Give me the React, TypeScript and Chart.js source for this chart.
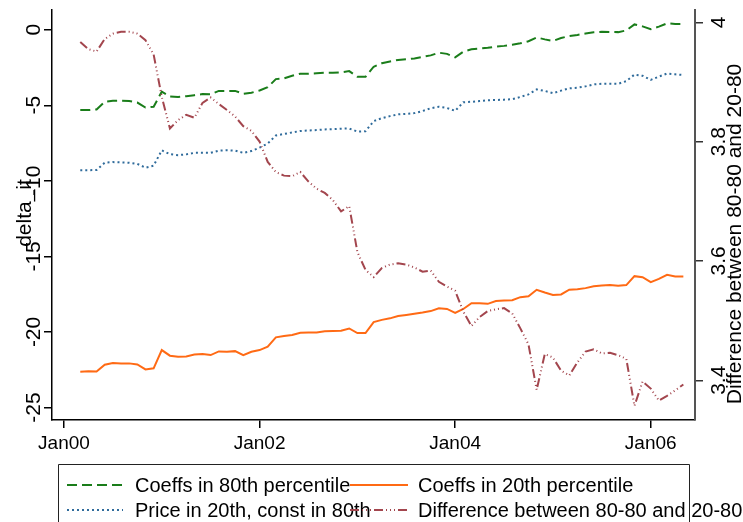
import React, { useEffect, useRef } from "react";
import { Chart, registerables } from "chart.js";

Chart.register(...registerables);

// months since Jan 2000 (Mar 2000 .. May 2006)
const months = [
  2, 3, 4, 5, 6, 7, 8, 9, 10, 11,
  12, 13, 14, 15, 16, 17, 18, 19, 20, 21,
  22, 23, 24, 25, 26, 27, 28, 29, 30, 31,
  32, 33, 34, 35, 36, 37, 38, 39, 40, 41,
  42, 43, 44, 45, 46, 47, 48, 49, 50, 51,
  52, 53, 54, 55, 56, 57, 58, 59, 60, 61,
  62, 63, 64, 65, 66, 67, 68, 69, 70, 71,
  72, 73, 74, 75, 76,
];

const coeffs80 = [
  -5.32, -5.32, -5.28, -4.77, -4.7, -4.7, -4.72, -4.82, -5.15, -5.1,
  -4.1, -4.42, -4.45, -4.4, -4.33, -4.26, -4.28, -4.05, -4.05, -4.05,
  -4.24, -4.17, -4.02, -3.8, -3.27, -3.22, -3.05, -2.91, -2.91, -2.88,
  -2.85, -2.85, -2.82, -2.74, -3.12, -3.12, -2.45, -2.22, -2.1, -2.0,
  -1.96, -1.9, -1.8, -1.7, -1.52, -1.6, -1.83, -1.45, -1.3, -1.25,
  -1.2, -1.12, -1.07, -1.0, -0.9, -0.76, -0.51, -0.64, -0.74, -0.55,
  -0.42, -0.35, -0.25, -0.17, -0.14, -0.15, -0.16, -0.05, 0.35, 0.22,
  0.03, 0.2, 0.42, 0.38, 0.38,
];

const coeffs20 = [
  -22.63, -22.6, -22.62, -22.17, -22.06, -22.08, -22.08, -22.15, -22.48, -22.41,
  -21.2, -21.57, -21.64, -21.62, -21.5, -21.46, -21.53, -21.29, -21.31, -21.27,
  -21.53, -21.31, -21.2, -20.98, -20.36, -20.27, -20.2, -20.05, -20.04, -20.03,
  -19.95, -19.93, -19.92, -19.77, -20.07, -20.07, -19.35, -19.2, -19.1, -18.95,
  -18.88, -18.8, -18.72, -18.62, -18.44, -18.48, -18.74, -18.48, -18.1, -18.1,
  -18.14, -17.95, -17.92, -17.9, -17.7, -17.64, -17.21, -17.39, -17.55, -17.52,
  -17.2, -17.17, -17.1, -16.98, -16.93, -16.9, -16.94, -16.9, -16.31, -16.38,
  -16.71, -16.49, -16.22, -16.33, -16.33,
];

const price20 = [
  -9.3, -9.3, -9.28, -8.8, -8.76, -8.78, -8.8, -8.88, -9.13, -9.0,
  -7.98, -8.24, -8.3, -8.25, -8.15, -8.15, -8.15, -8.0, -7.98, -8.0,
  -8.15, -8.03, -7.8, -7.53, -7.0, -6.9, -6.8, -6.7, -6.67, -6.64,
  -6.6, -6.58, -6.55, -6.54, -6.74, -6.72, -6.05, -5.85, -5.72, -5.6,
  -5.57, -5.52, -5.38, -5.2, -5.1, -5.18, -5.37, -4.8, -4.77, -4.72,
  -4.67, -4.65, -4.63, -4.6, -4.45, -4.28, -3.95, -4.05, -4.2, -4.03,
  -3.88, -3.84, -3.75, -3.62, -3.58, -3.57, -3.58, -3.4, -2.97, -3.05,
  -3.32, -3.1, -2.9, -2.95, -3.0,
];

const difference = [
  3.967, 3.955, 3.951, 3.972, 3.981, 3.984, 3.984, 3.981, 3.97, 3.946,
  3.875, 3.822, 3.836, 3.845, 3.84, 3.865, 3.874, 3.863, 3.853, 3.842,
  3.826, 3.818, 3.8, 3.766, 3.749, 3.743, 3.742, 3.749, 3.733, 3.721,
  3.714, 3.702, 3.683, 3.692, 3.615, 3.585, 3.573, 3.588, 3.594, 3.596,
  3.594, 3.589, 3.582, 3.584, 3.565, 3.557, 3.55, 3.515, 3.491, 3.506,
  3.516, 3.519, 3.521, 3.512, 3.487, 3.46, 3.384, 3.444, 3.438, 3.416,
  3.408, 3.43, 3.448, 3.452, 3.445, 3.446, 3.442, 3.436, 3.357, 3.398,
  3.386, 3.366, 3.374, 3.383, 3.393,
];

const xTickValues = [0, 24, 48, 72];
const xTickLabels = ["Jan00", "Jan02", "Jan04", "Jan06"];
const leftTickValues = [0, -5, -10, -15, -20, -25];
const leftTickLabels = ["0", "-5", "-10", "-15", "-20", "-25"];
const rightTickValues = [4, 3.8, 3.6, 3.4];
const rightTickLabels = ["4", "3.8", "3.6", "3.4"];

const seriesNames = [
  "Coeffs in 80th percentile",
  "Coeffs in 20th percentile",
  "Price in 20th, const in 80th",
  "Difference between 80-80 and 20-80",
];
const leftTitle = "delta_it";
const rightTitle = "Difference between 80-80 and 20-80";

const FONT = '"Liberation Sans", Arial, Helvetica, sans-serif';
const GREEN = "#1a7d1a";
const ORANGE = "#ff6a14";
const BLUE = "#2f6b9b";
const RED = "#a3464e";

const DASH_GREEN = [10, 5];
const DASH_BLUE = [2, 3];
const DASH_RED = [9, 3, 1, 3, 1, 3, 1, 3];

export default function App() {
  const ref = useRef<HTMLCanvasElement | null>(null);

  useEffect(() => {
    if (!ref.current) return;
    const pts = (arr: number[]) => arr.map((v, i) => ({ x: months[i], y: v }));

    const decor = {
      id: "decor",
      afterDraw(chart: any) {
        const ctx = chart.ctx as CanvasRenderingContext2D;
        const sx = chart.scales.x;
        const sy = chart.scales.y;
        const sy2 = chart.scales.y2;
        ctx.save();
        ctx.fillStyle = "#000";

        // x tick labels
        ctx.font = `19px ${FONT}`;
        ctx.textAlign = "center";
        ctx.textBaseline = "middle";
        xTickValues.forEach((v, i) => {
          ctx.fillText(xTickLabels[i], sx.getPixelForValue(v), 444);
        });

        const rotText = (t: string, x: number, y: number, font: string) => {
          ctx.save();
          ctx.font = font;
          ctx.translate(x, y);
          ctx.rotate(-Math.PI / 2);
          ctx.textAlign = "center";
          ctx.textBaseline = "alphabetic";
          ctx.fillText(t, 0, 0);
          ctx.restore();
        };

        leftTickValues.forEach((v, i) => {
          rotText(leftTickLabels[i], 40, sy.getPixelForValue(v), `21px ${FONT}`);
        });
        rotText(leftTitle, 31, 213, `21px ${FONT}`);

        rightTickValues.forEach((v, i) => {
          rotText(rightTickLabels[i], 725, sy2.getPixelForValue(v), `21px ${FONT}`);
        });
        rotText(rightTitle, 741, 234, `21px ${FONT}`);

        // legend box
        ctx.strokeStyle = "#222";
        ctx.lineWidth = 1;
        ctx.setLineDash([]);
        ctx.beginPath();
        ctx.moveTo(58.5, 530);
        ctx.lineTo(58.5, 464.5);
        ctx.lineTo(689.5, 464.5);
        ctx.lineTo(689.5, 530);
        ctx.stroke();

        const items = [
          { c: GREEN, d: DASH_GREEN, x1: 67, x2: 123, tx: 135, y: 485, t: seriesNames[0] },
          { c: ORANGE, d: [], x1: 350, x2: 408, tx: 418, y: 485, t: seriesNames[1] },
          { c: BLUE, d: DASH_BLUE, x1: 67, x2: 123, tx: 135, y: 510, t: seriesNames[2] },
          { c: RED, d: DASH_RED, x1: 350, x2: 408, tx: 418, y: 510, t: seriesNames[3] },
        ];
        items.forEach((it) => {
          ctx.strokeStyle = it.c;
          ctx.lineWidth = 2;
          ctx.setLineDash(it.d);
          ctx.beginPath();
          ctx.moveTo(it.x1, it.y);
          ctx.lineTo(it.x2, it.y);
          ctx.stroke();
          ctx.setLineDash([]);
          ctx.fillStyle = "#000";
          ctx.font = `20px ${FONT}`;
          ctx.textAlign = "left";
          ctx.textBaseline = "middle";
          ctx.fillText(it.t, it.tx, it.y + 1);
        });
        ctx.restore();
      },
    };

    const gridCfg = {
      display: true,
      drawOnChartArea: false,
      drawTicks: true,
      tickLength: 8,
      color: "#000",
      lineWidth: 1.5,
    };

    const chart = new Chart(ref.current, {
      type: "line",
      data: {
        datasets: [
          {
            label: seriesNames[3],
            data: pts(difference),
            yAxisID: "y2",
            borderColor: RED,
            borderWidth: 2,
            borderDash: DASH_RED,
            pointRadius: 0,
            tension: 0,
            fill: false,
          },
          {
            label: seriesNames[0],
            data: pts(coeffs80),
            yAxisID: "y",
            borderColor: GREEN,
            borderWidth: 2,
            borderDash: DASH_GREEN,
            pointRadius: 0,
            tension: 0,
            fill: false,
          },
          {
            label: seriesNames[2],
            data: pts(price20),
            yAxisID: "y",
            borderColor: BLUE,
            borderWidth: 2,
            borderDash: DASH_BLUE,
            pointRadius: 0,
            tension: 0,
            fill: false,
          },
          {
            label: seriesNames[1],
            data: pts(coeffs20),
            yAxisID: "y",
            borderColor: ORANGE,
            borderWidth: 2,
            pointRadius: 0,
            tension: 0,
            fill: false,
          },
        ],
      },
      options: {
        animation: false,
        responsive: false,
        devicePixelRatio: 1,
        layout: { padding: { top: 10, left: 0, right: 0, bottom: 0 } },
        plugins: {
          legend: { display: false },
          tooltip: { enabled: false },
        },
        scales: {
          x: {
            type: "linear",
            position: "bottom",
            min: -1.47,
            max: 77.43,
            afterBuildTicks: (s: any) => {
              s.ticks = xTickValues.map((v) => ({ value: v }));
            },
            afterFit: (s: any) => {
              s.height = 102;
            },
            ticks: { display: false },
            grid: gridCfg,
            border: { display: true, color: "#000", width: 1.5 },
          },
          y: {
            type: "linear",
            position: "left",
            min: -25.827,
            max: 1.304,
            afterBuildTicks: (s: any) => {
              s.ticks = leftTickValues.map((v) => ({ value: v }));
            },
            afterFit: (s: any) => {
              s.width = 52;
            },
            ticks: { display: false },
            grid: gridCfg,
            border: { display: true, color: "#000", width: 1.5 },
          },
          y2: {
            type: "linear",
            position: "right",
            min: 3.3334,
            max: 4.0206,
            afterBuildTicks: (s: any) => {
              s.ticks = rightTickValues.map((v) => ({ value: v }));
            },
            afterFit: (s: any) => {
              s.width = 48;
            },
            ticks: { display: false },
            grid: { ...gridCfg, color: "#333" },
            border: { display: true, color: "#555", width: 2 },
          },
        },
      },
      plugins: [decor],
    } as any);

    return () => chart.destroy();
  }, []);

  return (
    <div
      style={{
        position: "absolute",
        left: 0,
        top: 0,
        width: 743,
        height: 522,
        background: "#fff",
        overflow: "hidden",
      }}
    >
      <canvas ref={ref} width={743} height={522} style={{ display: "block" }} />
    </div>
  );
}
